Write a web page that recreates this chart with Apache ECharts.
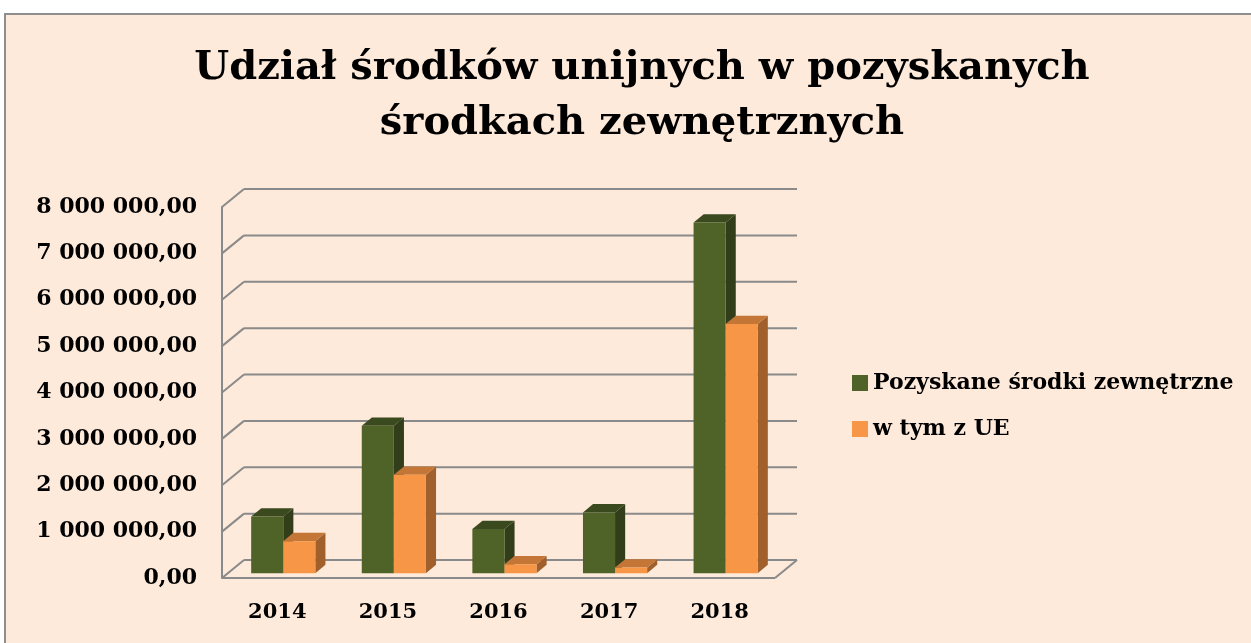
<!DOCTYPE html>
<html>
<head>
<meta charset="utf-8">
<script src="https://cdn.jsdelivr.net/npm/echarts@6/dist/echarts.min.js"></script>
<style>
  html, body { margin: 0; padding: 0; background: #fff; }
  #chart { width: 1251px; height: 643px; }
</style>
</head>
<body>
<div id="chart"></div>
<script>
// dane
const years = ["2014", "2015", "2016", "2017", "2018"];
const pozyskane = [1220000, 3180000, 950000, 1310000, 7560000];
const zUE = [690000, 2120000, 190000, 120000, 5370000];
const yTicks = [0, 1000000, 2000000, 3000000, 4000000, 5000000, 6000000, 7000000, 8000000];

const seriesNames = ["Pozyskane środki zewnętrzne", "w tym z UE"];
const FONT = "DejaVu Serif";

// glebokosc "3D"
const DX = 22, DY = 18;
const BAR_START = 0.27, BAR_DEPTH = 0.46, BAR_W = 0.29;

const myChart = echarts.init(document.getElementById("chart"));

function fmt(v) {
  let s = Math.round(v).toString().replace(/\B(?=(\d{3})+(?!\d))/g, " ");
  return s + ",00";
}

// sciany i podloga
function renderWall(params, api) {
  const cs = params.coordSys;
  const left = cs.x, right = cs.x + cs.width;
  const y = api.coord([0, api.value(1)])[1];
  const st = { stroke: "#8a8a8a", lineWidth: 2 };
  const children = [
    { type: "line", shape: { x1: left, y1: y, x2: left + DX, y2: y - DY }, style: st },
    { type: "line", shape: { x1: left + DX, y1: y - DY, x2: right + DX, y2: y - DY }, style: st },
  ];
  if (api.value(1) === 0) {
    children.push({ type: "line", shape: { x1: left, y1: y, x2: right, y2: y }, style: st });
    children.push({ type: "line", shape: { x1: right, y1: y, x2: right + DX, y2: y - DY }, style: st });
  }
  return { type: "group", children: children };
}

function makeBar(which, front, top, side) {
  return function (params, api) {
    const idx = api.value(0);
    const base = api.coord([idx, 0]);
    const tp = api.coord([idx, api.value(1)]);
    const band = api.size([1, 0])[0];
    const w = band * BAR_W;
    const px = DX * BAR_START, py = DY * BAR_START;
    const ox = DX * BAR_DEPTH, oy = DY * BAR_DEPTH;
    const x0 = (which === 0 ? base[0] - w : base[0]) + px;
    const by = base[1] - py;
    const ty = tp[1] - py;
    return {
      type: "group",
      children: [
        { type: "polygon", shape: { points: [[x0 + w, ty], [x0 + w + ox, ty - oy], [x0 + w + ox, by - oy], [x0 + w, by]] }, style: { fill: side } },
        { type: "polygon", shape: { points: [[x0, ty], [x0 + w, ty], [x0 + w + ox, ty - oy], [x0 + ox, ty - oy]] }, style: { fill: top } },
        { type: "rect", shape: { x: x0, y: ty, width: w, height: by - ty }, style: { fill: front } },
      ],
    };
  };
}

let option = {
  backgroundColor: "#ffffff",
  animation: false,
  graphic: [
    {
      type: "rect",
      z: -100,
      silent: true,
      shape: { x: 5, y: 14, width: 1300, height: 700 },
      style: { fill: "#FDEADA", stroke: "#8e8e8e", lineWidth: 2 },
    },
  ],
  title: {
    text: "Udział środków unijnych w pozyskanych\nśrodkach zewnętrznych",
    left: 637,
    textAlign: "center",
    top: 36,
    textStyle: {
      fontFamily: FONT,
      fontWeight: "bold",
      fontSize: 40,
      lineHeight: 55,
      color: "#000",
    },
  },
  legend: {
    data: seriesNames,
    orient: "vertical",
    left: 847,
    top: 367,
    icon: "rect",
    itemWidth: 16,
    itemHeight: 16,
    itemGap: 24,
    textStyle: { fontFamily: FONT, fontWeight: "bold", fontSize: 22, color: "#000" },
  },
  grid: {
    left: 222,
    right: 476,
    top: 207,
    bottom: 65,
  },
  xAxis: {
    type: "category",
    data: years,
    axisLine: { show: false },
    axisTick: { show: false },
    axisLabel: { margin: 24, fontFamily: FONT, fontWeight: "bold", fontSize: 21, color: "#000" },
  },
  yAxis: {
    type: "value",
    min: 0,
    max: 8000000,
    interval: 1000000,
    splitLine: { show: false },
    axisTick: { show: false },
    axisLine: { show: true, lineStyle: { color: "#8a8a8a", width: 2 } },
    axisLabel: {
      margin: 25,
      fontFamily: FONT,
      fontWeight: "bold",
      fontSize: 22,
      color: "#000",
      formatter: fmt,
    },
  },
  series: [
    {
      name: "wall",
      type: "custom",
      z: 1,
      silent: true,
      renderItem: renderWall,
      data: yTicks.map((v) => [0, v]),
    },
    {
      name: seriesNames[0],
      type: "custom",
      z: 3,
      itemStyle: { color: "#4F6228" },
      renderItem: makeBar(0, "#4F6228", "#3B491E", "#323E19"),
      data: pozyskane.map((v, i) => [i, v]),
    },
    {
      name: seriesNames[1],
      type: "custom",
      z: 4,
      itemStyle: { color: "#F79646" },
      renderItem: makeBar(1, "#F79646", "#C47637", "#A1602B"),
      data: zUE.map((v, i) => [i, v]),
    },
  ],
};

myChart.setOption(option);
</script>
</body>
</html>
